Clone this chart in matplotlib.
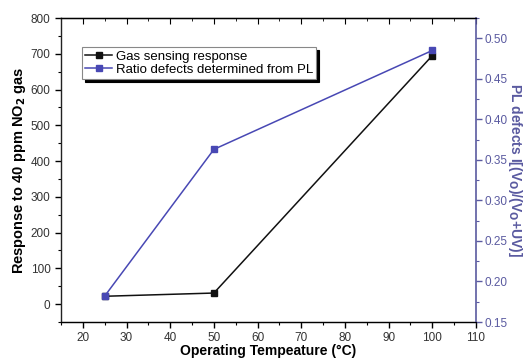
import matplotlib
matplotlib.use('Agg')
import matplotlib.pyplot as plt
from matplotlib.ticker import MultipleLocator

plt.rcParams['font.family'] = ['Liberation Sans', 'DejaVu Sans']

# data
temps = [25, 50, 100]
response = [22, 31, 695]
pl_ratio = [0.182, 0.363, 0.485]

BLUE = '#4848b4'
AXBLUE = '#5a5aa0'

fig = plt.figure(figsize=(5.32, 3.61), dpi=100)
ax = fig.add_axes([0.1147, 0.108, 0.78, 0.842])
ax2 = ax.twinx()

l1, = ax.plot(temps, response, '-s', color='#111111', lw=1.1, ms=4.5,
              label='Gas sensing response')
l2, = ax2.plot(temps, pl_ratio, '-s', color=BLUE, lw=1.1, ms=4.5,
               mfc=BLUE, mec=BLUE, label='Ratio defects determined from PL')

ax.set_xlim(15, 110)
ax.set_ylim(-50, 800)
ax2.set_ylim(0.15, 0.525)

ax.xaxis.set_major_locator(MultipleLocator(10))
ax.xaxis.set_minor_locator(MultipleLocator(5))
ax.yaxis.set_major_locator(MultipleLocator(100))
ax.yaxis.set_minor_locator(MultipleLocator(50))
ax2.yaxis.set_major_locator(MultipleLocator(0.05))
ax2.yaxis.set_minor_locator(MultipleLocator(0.025))
ax2.yaxis.set_major_formatter(plt.FormatStrFormatter('%.2f'))

ax.tick_params(axis='both', which='major', length=4, width=1, labelsize=8.5,
               labelcolor='#333333', direction='out')
ax.tick_params(axis='both', which='minor', length=2, width=0.8, direction='out')
ax2.tick_params(axis='y', which='major', length=4, width=1, labelsize=8.5,
                colors=AXBLUE, direction='out', pad=2)
ax2.tick_params(axis='y', which='minor', length=2, width=0.8,
                colors=AXBLUE, direction='out')

# inward ticks on the top spine
top = ax.secondary_xaxis('top')
top.xaxis.set_major_locator(MultipleLocator(10))
top.xaxis.set_minor_locator(MultipleLocator(5))
top.tick_params(which='major', direction='in', length=4, labeltop=False)
top.tick_params(which='minor', direction='in', length=2)

for s in ['left', 'bottom', 'top']:
    ax.spines[s].set_color('#222222')
    ax.spines[s].set_linewidth(1)
ax2.spines['right'].set_color(AXBLUE)
ax2.spines['right'].set_linewidth(1.2)
ax2.spines['left'].set_visible(False)
ax.spines['right'].set_visible(False)

ax.set_xlabel('Operating Tempeature (°C)', fontsize=10, fontweight='bold', labelpad=0)
ax.set_ylabel('Response to 40 ppm NO$_\\mathbf{2}$ gas', fontsize=10.5,
              fontweight='bold', labelpad=2)
ax2.set_ylabel('PL defects I[(V$_\\mathbf{O}$)/(V$_\\mathbf{O}$+UV)]', fontsize=10,
               fontweight='bold', color=AXBLUE, rotation=-90, labelpad=12)

leg = ax.legend([l1, l2], [l1.get_label(), l2.get_label()],
                loc='upper left', bbox_to_anchor=(0.035, 0.925),
                fontsize=9.5, frameon=True, fancybox=False, borderpad=0.25,
                labelspacing=0.05, handlelength=2.0, handletextpad=0.3,
                shadow={'color': 'black', 'alpha': 1})
leg.get_frame().set_edgecolor('#888888')
leg.get_frame().set_linewidth(0.8)

fig.savefig('out.png', dpi=100, facecolor='white')
